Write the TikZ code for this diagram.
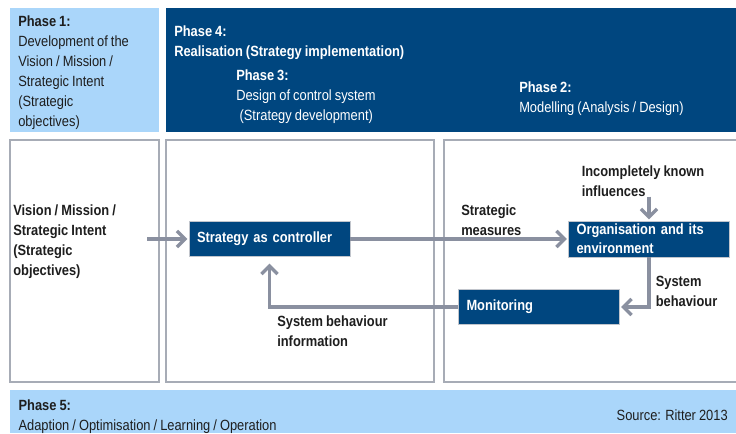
\documentclass[tikz,border=0pt]{standalone}
\usepackage{fontspec}
\setmainfont{Liberation Sans}[FakeStretch=0.87, WordSpace=0.85]
\usetikzlibrary{arrows.meta}

\definecolor{phasedark}{HTML}{00467F}
\definecolor{phaselight}{HTML}{AAD6FA}
\definecolor{framegray}{HTML}{A7ACB6}
\definecolor{flowgray}{HTML}{8A90A0}
\definecolor{inktext}{HTML}{1E1E1E}

\begin{document}
\begin{tikzpicture}[x=0.75pt, y=-0.75pt,
    txt/.style={inner sep=0pt, anchor=north west, align=left, text=inktext,
        font=\fontsize{11.1}{15}\selectfont},
    boldtxt/.style={txt, font=\fontsize{11.1}{15}\selectfont\bfseries},
    hometxt/.style={txt, text=white},
    frame/.style={draw=framegray, line width=1.1pt, fill=white},
    block/.style={fill=phasedark, draw=framegray!70, line width=0.6pt, text=white,
        font=\fontsize{11.1}{14.3}\selectfont\bfseries, align=left,
        inner xsep=6pt, inner ysep=1pt, text width=108.75pt, minimum height=26.5pt},
    flow/.style={draw=flowgray, line width=2.5pt,
        -{Straight Barb[length=6pt, width=12pt]}, shorten >=1pt}
]
    \useasboundingbox (0,0) rectangle (736,433);

    % Phase bands
    \fill[phaselight] (10,8) rectangle (159,132);
    \fill[phasedark] (166,8) rectangle (736,132);
    \fill[phaselight] (10,390) rectangle (736,433);

    % Frames
    \draw[frame] (10,140) rectangle (159,382);
    \draw[frame] (166,140) rectangle (434,382);
    \draw[frame] (444,140) rectangle (745,382);

    % Phase texts
    \node[txt] (phaseone) at (18,15.7)
        {\textbf{Phase 1:}\\Development of the\\Vision / Mission /\\Strategic Intent\\(Strategic\\objectives)};
    \node[hometxt, font=\fontsize{11.1}{15}\selectfont\bfseries] (phasefour) at (174,25.9)
        {Phase 4:\\Realisation (Strategy implementation)};
    \node[hometxt] (phasethree) at (236,69.2)
        {\textbf{Phase 3:}\\Design of control system\\\hspace{2.5pt}(Strategy development)};
    \node[hometxt] (phasetwo) at (519,81.9)
        {\textbf{Phase 2:}\\Modelling (Analysis / Design)};
    \node[txt] (phasefive) at (18.3,399.2)
        {\textbf{Phase 5:}\\Adaption / Optimisation / Learning / Operation};
    \node[txt, anchor=base east] (source) at (728,420) {Source: Ritter 2013};

    % Blocks
    \node[block] (ctrl) at (269.5,239) {Strategy as controller};
    \node[block, minimum height=27pt] (org) at (649,239) {Organisation and its\\environment};
    \node[block] (mon) at (539,307) {Monitoring};

    % Labels
    \node[boldtxt] (vision) at (13,204.2)
        {Vision / Mission /\\Strategic Intent\\(Strategic\\objectives)};
    \node[boldtxt] (measures) at (461,204.2) {Strategic\\measures};
    \node[boldtxt] (influences) at (581.5,165.2) {Incompletely known\\influences};
    \node[boldtxt] (behaviour) at (655.5,275.9) {System\\behaviour};
    \node[boldtxt] (information) at (277,315.9) {System behaviour\\information};
    \coordinate (visionout) at (147,239);

    % Edges
    \draw[flow] (visionout) -- (ctrl.west);
    \draw[flow] (ctrl.east) -- (org.west);
    \draw[flow] (influences.south -| org.north) -- (org.north);
    \draw[flow] (org.south) |- (mon.east);
    \draw[flow, shorten >=5pt] (mon.west) -| (ctrl.south);
\end{tikzpicture}
\end{document}
